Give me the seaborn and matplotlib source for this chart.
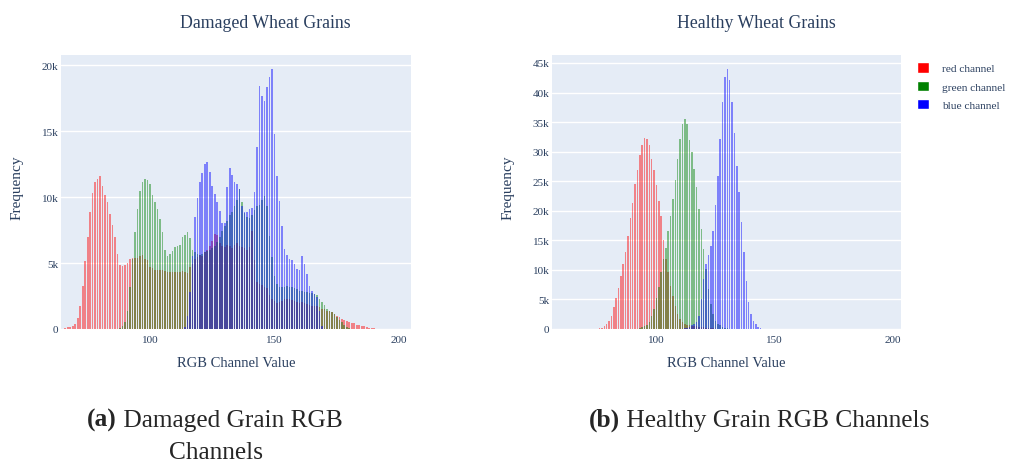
import matplotlib
matplotlib.use('Agg')
import matplotlib.pyplot as plt
import matplotlib.ticker as mticker
from matplotlib.patches import Patch
import numpy as np
import pandas as pd
import seaborn as sns

# pixel counts per channel value (bin width 1)
damaged_red_start = 66
damaged_red = [50, 120, 180, 250, 350, 830, 1770, 3280, 5180, 6970, 8860, 10280, 11160, 11360, 11570,
               10860, 10150, 9650, 8710, 7900, 6940, 5680, 4850, 4750, 4850, 5000, 5300, 5350, 5350, 5400,
               5550, 5600, 5300, 5200, 4670, 4600, 4450, 4450, 4500, 4450, 4400, 4350, 4300, 4300, 4350,
               4300, 4350, 4400, 4300, 4250, 4700, 4900, 5300, 5450, 5600, 5500, 5800, 6000, 6300, 6700,
               7200, 7100, 6500, 6300, 6200, 6400, 6300, 6100, 6400, 6500, 6300, 6200, 6100, 6000, 6200,
               7450, 5200, 3550, 3400, 3300, 3200, 3100, 2600, 2300, 2100, 2000, 2050, 2150, 2250, 2300,
               2250, 2200, 2100, 2050, 2000, 2050, 2000, 1900, 1800, 1780, 1760, 1740, 1700, 1550, 1480,
               1400, 1350, 1270, 1150, 1020, 900, 780, 700, 640, 560, 480, 420, 340, 290, 250,
               200, 140, 100, 70, 40]
damaged_green_start = 88
damaged_green = [100, 250, 550, 1390, 3150, 5300, 7370, 9090, 10430, 11110, 11360, 11290, 10980, 10150,
                 9600, 9090, 8330, 7320, 6010, 5550, 5700, 5930, 6190, 6300, 6390, 6940, 7150, 7320, 6900,
                 6000, 5800, 5700, 5600, 5700, 5800, 5900, 6000, 6100, 6300, 6600, 7000, 7400, 7800, 8200,
                 8600, 8900, 9300, 9800, 10600, 9600, 8800, 8500, 8400, 8600, 9000, 9300, 9400, 9800,
                 10100, 9300, 7070, 5450, 4000, 3400, 3200, 3150, 3200, 3250, 3200, 3150, 3100, 3000,
                 2900, 2850, 2800, 2800, 2750, 2700, 2650, 2550, 2300, 2050, 1800, 1550, 1400, 1250,
                 1100, 900, 700, 500, 300, 150, 60]
damaged_blue_start = 114
damaged_blue = [150, 1000, 2800, 5550, 8460, 9900, 11160, 11820, 12500, 12680, 11920, 10860, 10230, 9620,
                8960, 8030, 8030, 10730, 12170, 11670, 11110, 11000, 10600, 9340, 8840, 8900, 9090, 9200,
                10350, 13760, 18430, 17680, 17300, 18310, 19070, 19700, 14770, 11610, 9720, 7830, 6060,
                5600, 5300, 5200, 4920, 4550, 4500, 5500, 4900, 4170, 3280, 2900, 2650, 2400, 1390, 250]

healthy_red_start = 75
healthy_red = [80, 150, 250, 450, 845, 1400, 2250, 3660, 5190, 6880, 9000, 10980, 13060, 15760, 18700,
               21230, 24490, 26910, 29390, 31080, 32260, 32200, 31080, 28830, 26910, 24320, 21680, 19040,
               15000, 11800, 9580, 7320, 5630, 3940, 2530, 1690, 1130, 845, 700, 600, 550, 500, 450, 400,
               350, 300, 250, 200, 150, 100, 60]
healthy_green_start = 93
healthy_green = [100, 280, 450, 680, 1240, 2140, 3380, 5190, 7150, 9580, 11820, 13630, 16610, 19150,
                 22060, 25180, 28830, 32100, 34640, 35600, 34640, 32000, 30000, 27000, 24000, 20300,
                 16900, 13520, 10140, 6760, 4225, 2530, 1400, 845, 600, 400, 250, 150]
healthy_blue_start = 112
healthy_blue = [100, 250, 400, 600, 850, 1130, 2250, 5070, 8450, 10980, 12500, 14080, 16610, 20960, 25910,
                32200, 38410, 42700, 43940, 42130, 38410, 33120, 27600, 23100, 18030, 12960, 8160, 4510,
                2530, 1400, 845, 390, 150]

channels = ['red channel', 'green channel', 'blue channel']
colors = ['red', 'green', 'blue']


def channel_frame(start, counts, name):
    return pd.DataFrame({'value': np.arange(start, start + len(counts)),
                         'count': counts, 'channel': name})


damaged = pd.concat([channel_frame(damaged_red_start, damaged_red, channels[0]),
                     channel_frame(damaged_green_start, damaged_green, channels[1]),
                     channel_frame(damaged_blue_start, damaged_blue, channels[2])])
healthy = pd.concat([channel_frame(healthy_red_start, healthy_red, channels[0]),
                     channel_frame(healthy_green_start, healthy_green, channels[1]),
                     channel_frame(healthy_blue_start, healthy_blue, channels[2])])

sns.set_theme(style='darkgrid', rc={'axes.facecolor': '#E5ECF6', 'grid.color': 'white',
                                    'grid.linewidth': 1.0})
plt.rcParams['font.family'] = ['Liberation Serif', 'DejaVu Serif']
TEXT = '#2a3f5f'

fig = plt.figure(figsize=(10.09, 4.64), dpi=100)
ax1 = fig.add_axes([0.0605, 0.2888, 0.3464, 0.5905])
ax2 = fig.add_axes([0.5471, 0.2888, 0.3459, 0.5905])

panels = [(ax1, damaged, (64.3, 204.6), 20760, 'Damaged Wheat Grains', 265, -0.108),
          (ax2, healthy, (55.9, 203.4), 46350, 'Healthy Wheat Grains', 756, -0.106)]

for ax, df, xlim, ytop, title, title_x, ylab_x in panels:
    for name, col in zip(channels, colors):
        sub = df[df['channel'] == name]
        sns.histplot(data=sub, x='value', weights='count', discrete=True, shrink=0.65,
                     color=col, alpha=0.45, linewidth=0, ax=ax)
    ax.set_xlim(*xlim)
    ax.set_ylim(0, ytop)
    ax.set_xticks([100, 150, 200])
    ax.yaxis.set_major_locator(mticker.MultipleLocator(5000))
    ax.yaxis.set_major_formatter(mticker.FuncFormatter(
        lambda v, p: '0' if v == 0 else f'{int(v / 1000)}k'))
    ax.grid(axis='x', visible=False)
    ax.tick_params(length=0, labelsize=8, colors=TEXT)
    ax.tick_params(axis='y', pad=2)
    ax.tick_params(axis='x', pad=4)
    for s in ax.spines.values():
        s.set_visible(False)
    ax.set_xlabel('RGB Channel Value', fontsize=10.5, color=TEXT)
    ax.set_ylabel('Frequency', fontsize=11, color=TEXT)
    ax.xaxis.set_label_coords(0.5, -0.0985)
    ax.yaxis.set_label_coords(ylab_x, 0.52)
    fig.text(title_x / 1009, 1 - 23 / 464, title, ha='center', va='center',
             fontsize=12.75, color=TEXT)

fig.legend(handles=[Patch(facecolor=c, label=n) for n, c in zip(channels, colors)],
           loc='upper left', bbox_to_anchor=(915 / 1009, 1 - 61 / 464), frameon=False,
           fontsize=8.2, handlelength=1.0, handleheight=1.05, labelspacing=0.62,
           handletextpad=1.15, labelcolor=TEXT, borderaxespad=0, borderpad=0.2)

# sub-figure captions
ta = fig.text(87 / 1009, 1 - 420 / 464, '(a)', fontsize=18.3, weight='bold', va='center', ha='left')
ax1.annotate(' Damaged Grain RGB', xy=(1, 0), xycoords=ta, va='bottom', ha='left',
             fontsize=18.3, annotation_clip=False)
fig.text(216 / 1009, 1 - 453 / 464, 'Channels', fontsize=18.3, va='center', ha='center')
tb = fig.text(589 / 1009, 1 - 420 / 464, '(b)', fontsize=18.3, weight='bold', va='center', ha='left')
ax2.annotate(' Healthy Grain RGB Channels', xy=(1, 0), xycoords=tb, va='bottom', ha='left',
             fontsize=18.3, annotation_clip=False)

fig.savefig('out.png', dpi=100)
